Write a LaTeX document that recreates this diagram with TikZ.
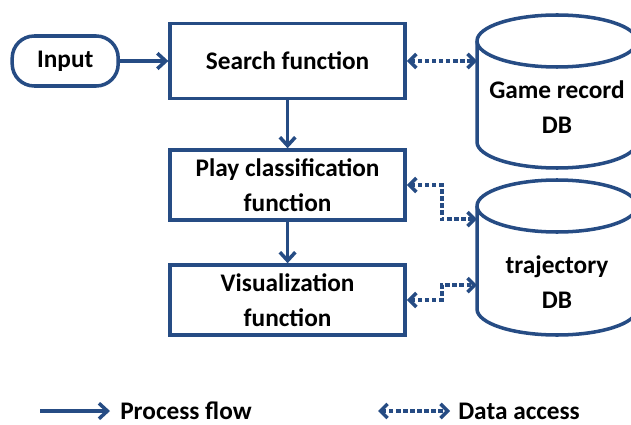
\documentclass[tikz,border=0pt]{standalone}
\usepackage{fontspec}
\setmainfont{Carlito}
\usetikzlibrary{positioning,arrows.meta}
\definecolor{flowblue}{RGB}{38,76,132}

\begin{document}
\begin{tikzpicture}[node distance=3cm,
    font=\fontsize{18}{25}\selectfont\bfseries,
    func/.style={draw=flowblue, line width=2.5pt, rectangle, minimum width=5.875cm, align=center},
    db/.style={rectangle, outer sep=0pt, minimum width=4cm},
    dbline/.style={draw=flowblue, line width=2.5pt, line join=round},
    flow/.style={draw=flowblue, line width=2.5pt, -{Straight Barb[length=6pt,width=11pt]}},
    access/.style={draw=flowblue, line width=2.5pt, dash pattern=on 3pt off 2pt, {Straight Barb[length=5pt,width=10pt]}-{Straight Barb[length=5pt,width=10pt]}}]
    \useasboundingbox (0,0) rectangle (15.775,-10.6);

    \node (search) [func, minimum height=1.875cm] at (7.19,-1.525) {Search function};
    \node (input) [draw=flowblue, line width=2.5pt, rounded corners=0.55cm, minimum width=2.65cm, minimum height=1.25cm, left of=search, xshift=-2.56cm] {Input};
    \node (play) [func, minimum height=1.75cm, below of=search, yshift=-0.1cm] {Play classification\\function};
    \node (vis) [func, minimum height=1.75cm, below of=play, yshift=0.125cm] {Visualization\\function};
    \node (gamedb) [db, minimum height=3.825cm, right of=search, xshift=3.735cm, yshift=-0.7625cm,
        label={[align=center, yshift=-0.38cm]center:{Game record\\DB}}] {};
    \node (trajdb) [db, minimum height=3.875cm, below of=gamedb, yshift=-1.15cm,
        label={[align=center, yshift=-0.61cm]center:{trajectory\\DB}}] {};

    % cylinder outlines
    \foreach \db in {gamedb,trajdb} {
        \draw[dbline] ([yshift=-0.65cm]\db.north) ellipse [x radius=2cm, y radius=0.65cm];
        \draw[dbline] ([yshift=-0.65cm]\db.north west) -- ([yshift=0.65cm]\db.south west)
            arc [start angle=180, end angle=360, x radius=2cm, y radius=0.65cm]
            -- ([yshift=-0.65cm]\db.north east);
    }

    \draw[flow] (input) -- (search);
    \draw[flow] (search) -- (play);
    \draw[flow] (play) -- (vis);

    \draw[access] (search.east) -- (search.east -| gamedb.west);
    \draw[access] (play.east) -- ++(0.875,0) |- ([yshift=0.96cm]trajdb.west);
    \draw[access] (vis.east) -- ++(0.875,0) |- ([yshift=-0.69cm]trajdb.west);

    % legend
    \node (flowtext) [anchor=west, inner sep=0pt] at (3.0,-10.275) {Process flow};
    \coordinate (flowstart) at (1.0,-10.275);
    \draw[flow] (flowstart) -- ([xshift=-0.25cm]flowtext.west);
    \node (accesstext) [anchor=west, inner sep=0pt] at (11.45,-10.275) {Data access};
    \coordinate (accessstart) at (9.45,-10.275);
    \draw[access] (accessstart) -- ([xshift=-0.2cm]accesstext.west);
\end{tikzpicture}
\end{document}
